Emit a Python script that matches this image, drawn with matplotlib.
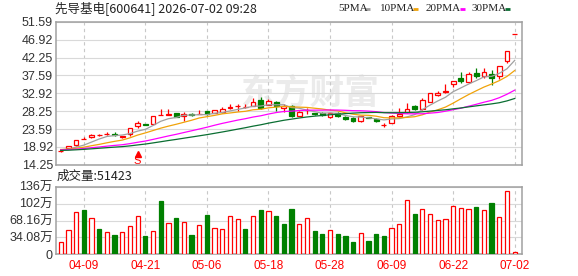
# plot.py
# K线图 + 成交量 (先导基电 600641)，日线，带均线

import numpy as np
import pandas as pd
import matplotlib
matplotlib.use("Agg")
import matplotlib.pyplot as plt
from matplotlib.lines import Line2D

plt.rcParams['font.family'] = ['Liberation Sans', 'Noto Sans CJK SC']

# DATOS

opens = [17.9, 18.6, 19.5, 21.0, 21.4, 22.0, 22.3, 22.4, 21.6, 22.2,
         24.4, 24.8, 24.8, 27.2, 27.3, 27.7, 27.1, 27.4, 27.5, 28.2,
         27.9, 28.0, 29.2, 29.5, 29.4, 29.7, 31.2, 29.9, 30.6, 29.0,
         29.6, 27.0, 28.5, 27.7, 27.8, 26.7, 27.9, 26.8, 26.5, 25.6,
         26.7, 26.3, 24.7, 25.3, 27.1, 28.1, 29.5, 28.8, 30.7, 32.5,
         33.2, 35.3, 37.0, 35.8, 38.3, 37.4, 38.0, 37.4, 41.4, 48.3]
highs = [18.1, 19.2, 20.8, 21.4, 22.4, 22.4, 22.7, 22.7, 21.8, 24.0,
         25.6, 24.9, 27.0, 28.8, 28.8, 27.9, 28.0, 27.7, 28.5, 28.4,
         28.6, 29.3, 30.0, 30.1, 30.0, 31.6, 32.0, 31.4, 31.0, 30.0,
         29.9, 28.2, 29.0, 27.8, 28.0, 27.9, 28.0, 26.9, 26.8, 27.0,
         26.8, 26.5, 25.2, 27.2, 29.0, 30.3, 29.8, 31.8, 33.0, 33.6,
         35.3, 36.2, 38.5, 38.5, 39.4, 39.6, 39.0, 40.0, 44.0, 48.3]
lows = [17.5, 18.5, 19.1, 21.0, 21.3, 21.9, 22.0, 21.9, 21.3, 21.8,
        24.0, 24.6, 24.8, 27.2, 27.3, 26.7, 25.8, 27.0, 27.5, 27.2,
        27.8, 27.9, 28.7, 28.3, 29.0, 29.6, 28.7, 29.8, 28.4, 28.1,
        26.8, 26.9, 27.5, 27.3, 27.1, 26.4, 26.8, 26.0, 25.4, 25.5,
        26.4, 25.4, 24.2, 25.2, 26.8, 27.9, 28.5, 28.6, 30.6, 32.2,
        33.1, 34.5, 35.5, 35.7, 36.8, 36.8, 35.1, 36.6, 40.9, 48.3]
closes = [18.0, 19.1, 20.8, 21.0, 22.1, 22.0, 22.4, 22.0, 21.7, 24.0,
          25.2, 24.7, 27.0, 27.2, 27.4, 26.8, 27.6, 27.3, 27.6, 27.5,
          28.5, 28.7, 29.3, 29.6, 29.4, 30.7, 29.0, 31.0, 29.5, 29.5,
          27.0, 28.1, 28.6, 27.5, 27.3, 27.7, 27.1, 26.1, 25.8, 27.0,
          26.6, 25.8, 24.7, 27.0, 27.5, 28.8, 28.8, 31.2, 32.9, 32.9,
          33.6, 36.1, 36.1, 37.9, 37.4, 38.5, 36.8, 40.0, 43.9, 48.3]

# cierres anteriores a la ventana (estimados por donde arrancan las medias)
ma_seed = [17.5, 17.7, 17.6, 17.8, 17.6, 17.9, 17.7, 17.8, 18.0, 17.9,
           17.8, 18.1, 18.0, 17.9, 18.2, 18.1, 18.0, 18.3, 18.2, 18.1,
           18.3, 18.4, 18.2, 18.3, 18.5, 18.3, 18.2, 18.4, 18.1]

# 成交量, 万
volumes = [24.8, 48.9, 85, 89, 74, 51, 45, 39, 45, 57,
           77, 37, 47, 107, 63, 73, 65, 39, 59, 79,
           54, 51, 78, 71, 51, 77, 89, 87, 77, 61,
           91, 62, 74, 47, 41, 49, 41, 37, 25, 42,
           27, 41, 37, 54, 62, 109, 81, 92, 82, 70,
           72, 98, 94, 92, 95, 90, 103, 76, 127, 5.14]
vol_up = [1, 1, 1, 0, 1, 0, 1, 0, 1, 1,
          1, 0, 1, 0, 1, 0, 1, 0, 1, 0,
          1, 1, 1, 1, 0, 1, 0, 1, 0, 0,
          0, 1, 1, 0, 0, 1, 0, 0, 0, 1,
          0, 0, 0, 1, 1, 1, 0, 1, 1, 1,
          1, 1, 1, 1, 0, 1, 0, 1, 1, 1]

date_ticks = [3, 11, 19, 27, 35, 43, 51, 59]
date_labels = ["04-09", "04-21", "05-06", "05-18", "05-28", "06-09", "06-22", "07-02"]

price_labels = ["14.25", "18.92", "23.59", "28.25", "32.92", "37.59", "42.25", "46.92", "51.59"]
vol_ticks = [0, 34.08, 68.16, 102.24, 136.32]
vol_labels = ["0", "34.08万", "68.16万", "102万", "136万"]

ma_periods = [5, 10, 20, 30]
ma_names = ["5PMA", "10PMA", "20PMA", "30PMA"]
ma_colors = ["#a0a0a0", "#f0a30a", "#ff00ff", "#0a6e32"]

signal_idx = 10   # marca "S"
last_vol = "51423"

RED = "#ff0000"
GREEN = "#008000"
GRID = "#d9d9d9"
FRAME = "#a0a0a0"

# FIGURA
W, H = 578, 276
fig = plt.figure(figsize=(W / 100, H / 100), dpi=100)

def box(x0, y0, x1, y1):
    return [x0 / W, 1 - y1 / H, (x1 - x0) / W, (y1 - y0) / H]

ax = fig.add_axes(box(55.7, 21.7, 522.3, 164.9))
axv = fig.add_axes(box(55.7, 186.7, 522.3, 254.3))

n = len(closes)
x = np.arange(n)

# medias móviles
all_close = pd.Series(ma_seed + closes)
for p, c in zip(ma_periods, ma_colors):
    ma = all_close.rolling(p).mean().iloc[len(ma_seed):].to_numpy()
    ax.plot(x, ma, color=c, lw=0.9, zorder=4)

# velas
up = np.array(closes) >= np.array(opens)
cols = np.where(up, RED, GREEN)
ax.vlines(x, lows, highs, colors=cols, lw=0.9, zorder=2)
body_lo = np.minimum(opens, closes)
body_h = np.maximum(np.abs(np.array(closes) - np.array(opens)), 0.02)
ax.bar(x, body_h, bottom=body_lo, width=0.62,
       facecolor=np.where(up, "white", GREEN), edgecolor=cols, lw=0.9, zorder=3)

# marca S
ax.plot([signal_idx], [17.2], marker="^", ms=4, color=RED, zorder=5)
ax.text(signal_idx, 15.3, "S", color=RED, fontsize=8, ha="center", va="center", zorder=5)

# marca de agua
ax.text(0.545, 0.5, "东方财富", transform=ax.transAxes, fontsize=25, fontweight="bold",
        color="#ebebeb", ha="center", va="center", family="Noto Sans CJK SC", zorder=0)

# volumen
vcols = [RED if u else GREEN for u in vol_up]
vface = ["white" if u else GREEN for u in vol_up]
axv.bar(x, volumes, width=0.55, facecolor=vface, edgecolor=vcols, lw=0.9, zorder=3)

# ejes
price_vals = [float(v) for v in price_labels]
ax.set_ylim(price_vals[0], price_vals[-1])
ax.set_yticks(price_vals)
ax.set_yticklabels(price_labels)
axv.set_ylim(0, vol_ticks[-1])
axv.set_yticks(vol_ticks)
axv.set_yticklabels(vol_labels)

for a in (ax, axv):
    a.set_xlim(-0.65, n - 0.01)
    a.set_xticks(date_ticks)
    for s in a.spines.values():
        s.set_color(FRAME)
        s.set_linewidth(1.1)
    a.tick_params(length=0, labelsize=9, labelcolor="#333333", pad=2)
    a.grid(axis="y", color=GRID, lw=0.8, zorder=0)
    a.grid(axis="x", color="#c8c8c8", lw=0.8, linestyle=(0, (3, 3)), zorder=0)
    a.set_axisbelow(True)

ax.set_xticklabels([])
axv.set_xticklabels(date_labels, color=RED, fontsize=8.5)
axv.tick_params(axis="x", pad=4)

# textos
fig.text(55 / W, 1 - 8 / H, "先导基电[600641] 2026-07-02 09:28", fontsize=9,
         va="center", ha="left", color="#222222", family="Noto Sans CJK SC")
fig.text(57 / W, 1 - 176.5 / H, "成交量:" + last_vol, fontsize=9,
         va="center", ha="left", color="#222222", family="Noto Sans CJK SC")

leg_x = [338, 379.7, 425.3, 471.3]
dash_x = [364.7, 413, 459.7, 504.7]
for name, c, tx, dx in zip(ma_names, ma_colors, leg_x, dash_x):
    fig.text(tx / W, 1 - 8.3 / H, name, fontsize=8, va="center", ha="left",
             color="#222222", family="Liberation Serif")
    fig.add_artist(Line2D([dx / W, (dx + 5) / W], [1 - 9 / H, 1 - 9 / H],
                          color=c, lw=2, solid_capstyle="butt"))

fig.savefig("out.png", dpi=100)
